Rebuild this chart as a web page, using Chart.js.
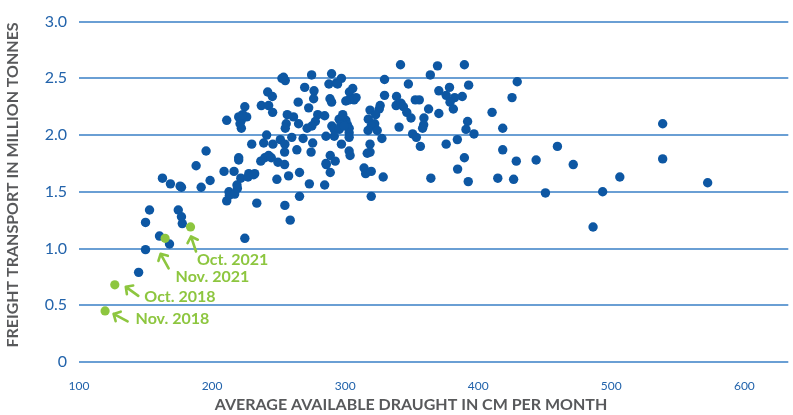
<!DOCTYPE html>
<html>
<head>
<meta charset="utf-8">
<script src="https://cdn.jsdelivr.net/npm/chart.js@4"></script>
<style>
  body { margin: 0; background: #fff; }
  canvas { display: block; }
</style>
</head>
<body>
<canvas id="draughtChart" width="793" height="415"></canvas>
<script>
// monthly values: [average available draught in cm, freight transport in million tonnes]
const months = [
  [162.7,1.62],[168.7,1.57],[176,1.55],[177,1.54],[153,1.34],[150,1.23],[150,0.99],[160.5,1.11],
  [168,1.04],[174.6,1.34],[177,1.28],[177.6,1.22],[144.8,0.79],[188,1.73],[195.5,1.86],[191.8,1.54],
  [198.5,1.60],[209,1.68],[211,2.13],[211,1.42],[212.7,1.50],[213,1.47],[217,1.48],[216.5,1.68],
  [218.7,1.56],[219,1.53],[220,1.80],[220,1.78],[221.6,1.62],[224.6,1.09],[220,2.16],[222,2.13],
  [222,2.06],[224.6,2.25],[226,2.16],[223,2.18],[221,2.10],[227.6,1.66],[227,1.63],[232,1.66],
  [233.6,1.40],[229.8,1.92],[237,2.26],[236.6,1.77],[239.6,1.80],[238.8,1.93],[241,2.00],[241.8,2.38],
  [242.5,2.26],[242.5,1.82],[244.5,1.80],[249.5,1.76],[254.5,1.74],[254.5,1.85],[263.7,1.87],[274.4,1.85],
  [265.7,1.67],[257.5,1.64],[248.7,1.61],[273.1,1.57],[284.6,1.56],[285.8,1.74],[288.8,1.67],[288.8,1.82],
  [265.7,1.46],[254.7,1.38],[258.7,1.25],[231.3,1.65],[245.3,2.34],[245.5,2.20],[253.7,2.51],[255,2.48],
  [252.5,2.50],[274.8,2.53],[269.6,2.42],[276.6,2.39],[276.3,2.32],[287.8,2.45],[289.8,2.54],[288.6,2.32],
  [264.7,2.29],[272.6,2.24],[256.5,2.18],[261.2,2.16],[265,2.10],[255.7,2.10],[255,2.06],[279.4,2.18],
  [284.6,2.17],[277.6,2.12],[275,2.08],[271.4,2.06],[285.6,1.99],[290,2.08],[259.9,1.98],[268.4,1.97],
  [251.3,1.96],[245.7,1.92],[254.7,1.92],[275.6,1.93],[293.5,2.46],[289.8,2.29],[306.7,2.31],[295.5,2.14],
  [300.5,2.13],[296.8,2.09],[301.7,2.09],[291.8,2.05],[295.5,2.05],[303,2.02],[291.8,1.99],[303,1.98],
  [285.6,1.75],[292.5,1.77],[297.2,2.50],[294.3,2.45],[341.6,2.62],[369.4,2.61],[389.6,2.62],[364,2.53],
  [329.6,2.49],[347.5,2.45],[378.4,2.42],[370.4,2.39],[375.9,2.35],[388,2.34],[382.3,2.33],[378.8,2.29],
  [381.3,2.23],[370.4,2.19],[305.7,2.41],[303.2,2.38],[308.2,2.33],[303,2.31],[300.5,2.30],[329.6,2.35],
  [338.6,2.34],[338.3,2.26],[326.3,2.26],[325.6,2.23],[318.7,2.22],[322.9,2.18],[317.4,2.14],[322.2,2.10],
  [319.6,2.08],[324.1,2.04],[317.2,2.04],[327.6,1.97],[318.7,1.92],[342,2.28],[352.7,2.31],[355.7,2.31],
  [343.8,2.25],[346.3,2.20],[349.5,2.15],[362.7,2.23],[359.2,2.15],[340.5,2.07],[359,2.09],[358.2,2.06],
  [350.7,2.01],[353.5,1.98],[356.5,1.90],[375.9,1.92],[384.3,1.96],[392,2.12],[390.8,2.05],[303,2.06],
  [299.3,2.08],[298.2,2.18],[297.2,1.92],[303,1.86],[318.7,1.85],[303.7,1.82],[316.6,1.84],[314.2,1.71],
  [315.4,1.66],[319.6,1.68],[328.6,1.63],[319.6,1.46],[364.4,1.62],[384.5,1.70],[389.6,1.80],[392.5,1.59],
  [396.8,2.01],[392.8,2.44],[429.3,2.47],[425.4,2.33],[410.4,2.20],[418.4,2.06],[418.4,1.87],[428.6,1.77],
  [443.5,1.78],[459.5,1.90],[471.4,1.74],[414.7,1.62],[426.6,1.61],[450.5,1.49],[493.5,1.50],[506.4,1.63],
  [486.3,1.19],[538.6,2.10],[538.6,1.79],[572.4,1.58]
];

// highlighted months
const highlightLabels = ['Nov. 2018', 'Oct. 2018', 'Nov. 2021', 'Oct. 2021'];
const highlightCm = [119.6, 126.9, 164.7, 183.8];
const highlightMt = [0.45, 0.68, 1.09, 1.19];

const yTickLabels = ['0', '0.5', '1.0', '1.5', '2.0', '2.5', '3.0'];
const xTitle = 'AVERAGE AVAILABLE DRAUGHT IN CM PER MONTH';
const yTitle = 'FREIGHT TRANSPORT IN MILLION TONNES';

const BLUE = '#0d57a3';
const GREEN = '#8dc63f';
const TICK = '#2263ab';
const GRID = '#6a9fd4';
const TITLE = '#58595b';

// callout geometry relative to each highlighted point: arrow tip, arrow tail, text start
const callouts = [
  { tip: [8.5, 3], tail: [22.5, 10.5], text: [30.5, 8] },
  { tip: [11, 2], tail: [23.5, 11], text: [29.5, 12] },
  { tip: [-4.5, 15.5], tail: [3.5, 30], text: [10.5, 38.5] },
  { tip: [0.5, 9.5], tail: [5.5, 24.5], text: [6.5, 33] }
];

const calloutPlugin = {
  id: 'callouts',
  afterDatasetsDraw(chart) {
    const { ctx, scales: { x, y } } = chart;
    ctx.save();
    ctx.strokeStyle = GREEN;
    ctx.fillStyle = GREEN;
    ctx.lineWidth = 2.6;
    ctx.lineCap = 'round';
    ctx.lineJoin = 'round';
    ctx.font = 'bold 16px Lato';
    ctx.textBaseline = 'middle';
    ctx.textAlign = 'left';
    highlightCm.forEach((cm, i) => {
      const px = x.getPixelForValue(cm);
      const py = y.getPixelForValue(highlightMt[i]);
      const c = callouts[i];
      const tx = px + c.tip[0], ty = py + c.tip[1];
      const sx = px + c.tail[0], sy = py + c.tail[1];
      const a = Math.atan2(ty - sy, tx - sx);
      const h = 7.5;
      ctx.beginPath();
      ctx.moveTo(sx, sy);
      ctx.lineTo(tx, ty);
      ctx.moveTo(tx - h * Math.cos(a - 0.8), ty - h * Math.sin(a - 0.8));
      ctx.lineTo(tx, ty);
      ctx.lineTo(tx - h * Math.cos(a + 0.8), ty - h * Math.sin(a + 0.8));
      ctx.stroke();
      ctx.fillText(highlightLabels[i], px + c.text[0], py + c.text[1]);
    });
    ctx.restore();
  },
  afterDraw(chart) {
    const { ctx } = chart;
    ctx.save();
    ctx.fillStyle = TITLE;
    ctx.font = 'bold 16px Lato';
    ctx.textAlign = 'center';
    ctx.textBaseline = 'middle';
    ctx.fillText(xTitle, 411, 405);
    ctx.translate(13, 185);
    ctx.rotate(-Math.PI / 2);
    ctx.fillText(yTitle, 0, 0);
    ctx.restore();
  }
};

new Chart(document.getElementById('draughtChart'), {
  type: 'scatter',
  data: {
    datasets: [
      {
        data: highlightCm.map((cm, i) => ({ x: cm, y: highlightMt[i] })),
        backgroundColor: GREEN,
        borderWidth: 0,
        pointRadius: 4.6,
        order: 0
      },
      {
        data: months.map(m => ({ x: m[0], y: m[1] })),
        backgroundColor: BLUE,
        borderWidth: 0,
        pointRadius: 4.7,
        order: 1
      }
    ]
  },
  options: {
    responsive: false,
    animation: false,
    events: [],
    layout: { padding: { top: 15, right: 0, left: 0, bottom: 0 } },
    plugins: { legend: { display: false }, tooltip: { enabled: false } },
    scales: {
      x: {
        type: 'linear',
        min: 100,
        max: 633,
        afterFit(s) { s.height = 53; },
        grid: { display: false, drawTicks: false },
        border: { display: false },
        ticks: {
          stepSize: 100,
          includeBounds: false,
          padding: 17,
          color: TICK,
          font: { family: 'Lato', size: 12 }
        }
      },
      y: {
        min: 0,
        max: 3,
        afterFit(s) { s.width = 79; },
        grid: { color: GRID, lineWidth: 2, drawTicks: false },
        border: { display: false },
        ticks: {
          stepSize: 0.5,
          padding: 12,
          color: TICK,
          font: { family: 'Lato', size: 16 },
          callback: v => yTickLabels[Math.round(v * 2)]
        }
      }
    }
  },
  plugins: [calloutPlugin]
});
</script>
</body>
</html>
